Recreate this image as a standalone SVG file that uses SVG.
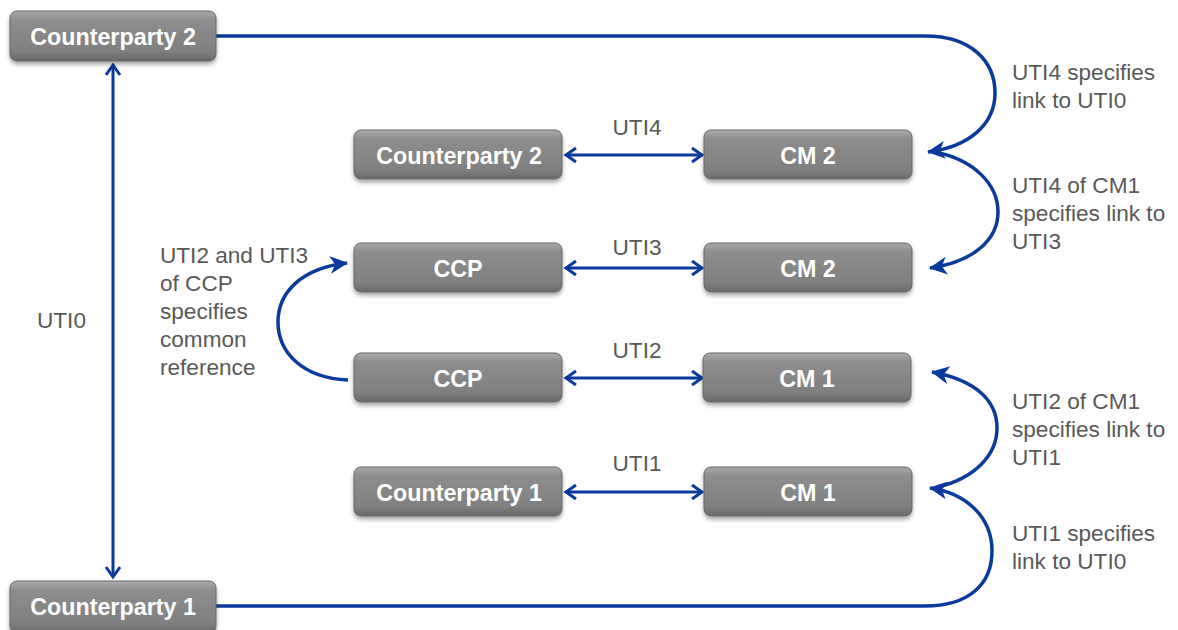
<svg xmlns="http://www.w3.org/2000/svg" width="1178" height="630" viewBox="0 0 1178 630">
<style>
.box{fill:url(#g);stroke:#666;stroke-width:1;filter:url(#sh)}
.bt{font-family:"Liberation Sans",Arial,sans-serif;font-weight:bold;font-size:23.3px;fill:#fff;text-anchor:middle}
.lb{font-family:"Liberation Sans",Arial,sans-serif;font-size:22.6px;fill:#595959}
.c{fill:none;stroke:#0a3a9c;stroke-width:3.5}
.s{fill:none;stroke:#0a3a9c;stroke-width:3}
</style>
<defs>
<linearGradient id="g" x1="0" y1="0" x2="0" y2="1">
<stop offset="0" stop-color="#acacac"/>
<stop offset="0.18" stop-color="#8d8d8d"/>
<stop offset="0.8" stop-color="#808080"/>
<stop offset="1" stop-color="#686868"/>
</linearGradient>
<filter id="sh" x="-10%" y="-20%" width="120%" height="160%">
<feDropShadow dx="0" dy="3" stdDeviation="2" flood-color="#000" flood-opacity="0.35"/>
</filter>
<marker id="ch" markerUnits="userSpaceOnUse" markerWidth="16" markerHeight="20" refX="11" refY="8" orient="auto-start-reverse">
<path d="M1,1 L11,8 L1,15" fill="none" stroke="#0a3a9c" stroke-width="3"/>
</marker>
<marker id="fa" markerUnits="userSpaceOnUse" markerWidth="20" markerHeight="20" refX="17" refY="9" orient="auto">
<path d="M0,0 L18,9 L0,18 L5,9 z" fill="#0a3a9c"/>
</marker>
</defs>
<g id="connectors">
<line class="s" x1="113" y1="65" x2="113" y2="577" marker-start="url(#ch)" marker-end="url(#ch)"/>
<line class="s" x1="566" y1="155" x2="702" y2="155" marker-start="url(#ch)" marker-end="url(#ch)"/>
<line class="s" x1="566" y1="268" x2="702" y2="268" marker-start="url(#ch)" marker-end="url(#ch)"/>
<line class="s" x1="566" y1="378" x2="702" y2="378" marker-start="url(#ch)" marker-end="url(#ch)"/>
<line class="s" x1="566" y1="492" x2="702" y2="492" marker-start="url(#ch)" marker-end="url(#ch)"/>
<path class="c" d="M216,36 L925,36 C972,36 995,62 995,93 C995,125 968,147 928,152" marker-end="url(#fa)"/>
<path class="c" d="M935,152 C975,160 998,185 998,212 C998,240 973,262 930,268" marker-end="url(#fa)"/>
<path class="c" d="M938,487 C975,478 997,455 997,428 C997,400 975,380 932,372" marker-end="url(#fa)"/>
<path class="c" d="M216,606 L925,606 C968,606 992,585 992,551 C992,517 966,493 930,488" marker-end="url(#fa)"/>
<path class="c" d="M348,380 C302,378 278,352 278,322 C278,292 302,268 347,263" marker-end="url(#fa)"/>
</g>
<g id="cp2top"><rect class="box" x="10" y="11" width="206" height="50" rx="7"/><text class="bt" x="113" y="45">Counterparty 2</text></g>
<g id="cp1bottom"><rect class="box" x="10" y="581" width="206" height="52" rx="7"/><text class="bt" x="113" y="615">Counterparty 1</text></g>
<g id="cp2"><rect class="box" x="354" y="130" width="208" height="49" rx="7"/><text class="bt" x="459" y="164">Counterparty 2</text></g>
<g id="cm2a"><rect class="box" x="704" y="130" width="208" height="49" rx="7"/><text class="bt" x="808" y="164">CM 2</text></g>
<g id="ccp1"><rect class="box" x="354" y="243" width="208" height="49" rx="7"/><text class="bt" x="458" y="277">CCP</text></g>
<g id="cm2b"><rect class="box" x="704" y="243" width="208" height="49" rx="7"/><text class="bt" x="808" y="277">CM 2</text></g>
<g id="ccp2"><rect class="box" x="354" y="353" width="208" height="49" rx="7"/><text class="bt" x="458" y="387">CCP</text></g>
<g id="cm1a"><rect class="box" x="703" y="353" width="208" height="49" rx="7"/><text class="bt" x="807" y="387">CM 1</text></g>
<g id="cp1"><rect class="box" x="354" y="467" width="208" height="49" rx="7"/><text class="bt" x="459" y="501">Counterparty 1</text></g>
<g id="cm1b"><rect class="box" x="704" y="467" width="208" height="49" rx="7"/><text class="bt" x="808" y="501">CM 1</text></g>
<g id="labels">
<text class="lb" x="637" y="135" text-anchor="middle">UTI4</text>
<text class="lb" x="637" y="255" text-anchor="middle">UTI3</text>
<text class="lb" x="637" y="358" text-anchor="middle">UTI2</text>
<text class="lb" x="637" y="471" text-anchor="middle">UTI1</text>
<text class="lb" x="37" y="328">UTI0</text>
<text class="lb" x="1012" y="80">UTI4 specifies</text>
<text class="lb" x="1012" y="108">link to UTI0</text>
<text class="lb" x="1012" y="193">UTI4 of CM1</text>
<text class="lb" x="1012" y="221">specifies link to</text>
<text class="lb" x="1012" y="249">UTI3</text>
<text class="lb" x="1012" y="409">UTI2 of CM1</text>
<text class="lb" x="1012" y="437">specifies link to</text>
<text class="lb" x="1012" y="465">UTI1</text>
<text class="lb" x="1012" y="541">UTI1 specifies</text>
<text class="lb" x="1012" y="569">link to UTI0</text>
<text class="lb" x="160" y="263">UTI2 and UTI3</text>
<text class="lb" x="160" y="291">of CCP</text>
<text class="lb" x="160" y="319">specifies</text>
<text class="lb" x="160" y="347">common</text>
<text class="lb" x="160" y="375">reference</text>
</g>
</svg>
